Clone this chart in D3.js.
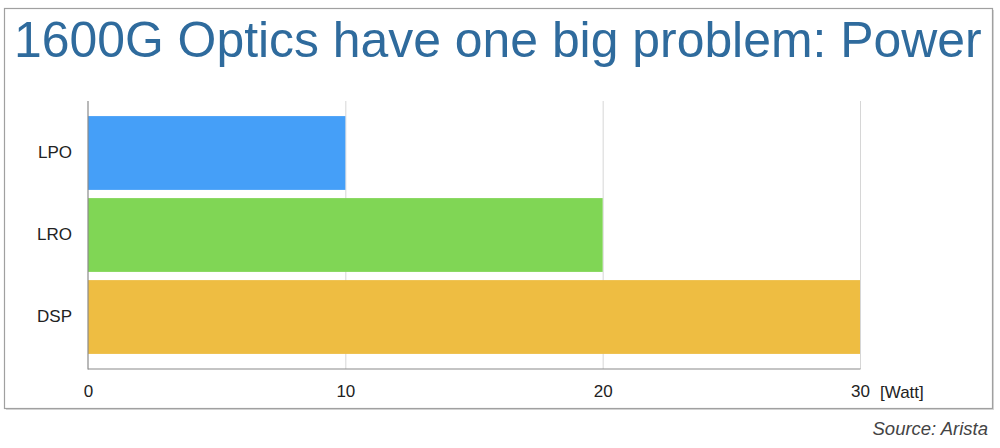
<!DOCTYPE html>
<html>
<head>
<meta charset="utf-8">
<script src="https://cdn.jsdelivr.net/npm/d3@7"></script>
<style>
  html, body { margin: 0; padding: 0; background: #fff; }
  svg { display: block; font-family: "Liberation Sans", Arial, sans-serif; }
</style>
</head>
<body>
<svg id="chart" width="1000" height="448"></svg>
<script>
const categories = ["LPO", "LRO", "DSP"];
const values = [10, 20, 30];
const colors = ["#459ff8", "#80d655", "#eebd42"];
const xTicks = [0, 10, 20, 30];
const titleText = "1600G Optics have one big problem: Power";
const unitText = "[Watt]";
const sourceText = "Source: Arista";

const svg = d3.select("#chart");

// frame with soft shadow
svg.append("rect").attr("x", 6).attr("y", 10).attr("width", 988).attr("height", 400)
  .attr("fill", "#d8d8d8");
svg.append("rect").attr("x", 4.5).attr("y", 8.5).attr("width", 988).attr("height", 400)
  .attr("fill", "#fff").attr("stroke", "#a0a0a0").attr("stroke-width", 1.2);

// title, sized to span the reference width naturally
const title = svg.append("text")
  .attr("x", 14).attr("y", 56.5)
  .attr("font-size", 50)
  .attr("fill", "#2f6b9d")
  .text(titleText);
const w = title.node().getComputedTextLength();
title.attr("font-size", 50 * 968 / w);

const x = d3.scaleLinear().domain([0, 30]).range([88, 860]);
const y = d3.scaleBand().domain(categories).range([101, 369]).paddingInner(0.1).paddingOuter(0.184);

// grid lines
svg.append("g").selectAll("line").data(xTicks.slice(1)).join("line")
  .attr("x1", d => x(d) + 0.5).attr("x2", d => x(d) + 0.5)
  .attr("y1", 101).attr("y2", 369)
  .attr("stroke", "#d6d6d6").attr("stroke-width", 1);

// bars
svg.append("g").selectAll("rect").data(categories).join("rect")
  .attr("x", x(0))
  .attr("y", d => y(d))
  .attr("width", (d, i) => x(values[i]) - x(0))
  .attr("height", y.bandwidth())
  .attr("fill", (d, i) => colors[i]);

// axes lines
svg.append("line").attr("x1", 88).attr("x2", 88).attr("y1", 101).attr("y2", 369.5)
  .attr("stroke", "#8a8a8a").attr("stroke-width", 1.2);
svg.append("line").attr("x1", 88).attr("x2", 860.5).attr("y1", 369).attr("y2", 369)
  .attr("stroke", "#8a8a8a").attr("stroke-width", 1.2);

// y axis labels
const yAxis = d3.axisLeft(y).tickSize(0).tickPadding(16);
const gy = svg.append("g").attr("transform", "translate(88,0)").call(yAxis);
gy.select(".domain").remove();
gy.selectAll("text").attr("font-size", 17).attr("fill", "#222")
  .attr("font-family", "Liberation Sans, Arial, sans-serif");

// x axis labels
const xAxis = d3.axisBottom(x).tickValues(xTicks).tickSize(0).tickPadding(16).tickFormat(d3.format("d"));
const gx = svg.append("g").attr("transform", "translate(0,369)").call(xAxis);
gx.select(".domain").remove();
gx.selectAll("text").attr("font-size", 17).attr("fill", "#222")
  .attr("font-family", "Liberation Sans, Arial, sans-serif");

// unit
svg.append("text").attr("x", x(30) + 20).attr("y", 398)
  .attr("font-size", 17).attr("fill", "#222").text(unitText);

// source
svg.append("text").attr("x", 988).attr("y", 434.5)
  .attr("text-anchor", "end").attr("font-size", 18.5).attr("font-style", "italic")
  .attr("fill", "#444").text(sourceText);
</script>
</body>
</html>
